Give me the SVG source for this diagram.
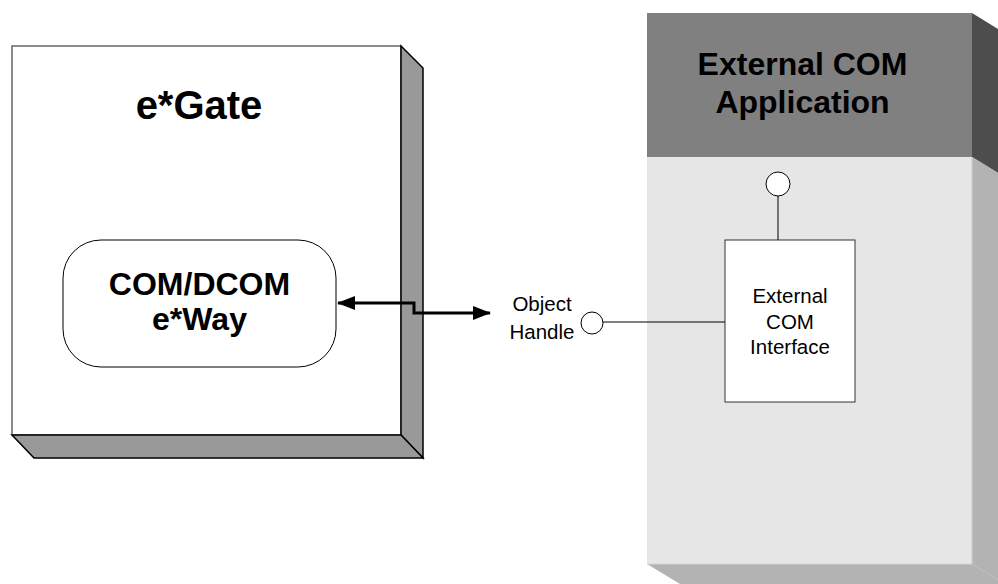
<svg xmlns="http://www.w3.org/2000/svg" width="998" height="584" viewBox="0 0 998 584">
<defs>
<style>
.title{font-family:"Liberation Sans",Arial,sans-serif;font-weight:bold;font-size:32px;fill:#000;text-anchor:middle}
.big{font-size:40px}
.small{font-family:"Liberation Sans",Arial,sans-serif;font-size:20.5px;fill:#000;text-anchor:middle}
.side{fill:#999999;stroke:#000;stroke-width:1.5;stroke-linejoin:miter}
.thin{stroke:#000;stroke-width:1;fill:none}
</style>
<marker id="ah" viewBox="0 0 18 14" refX="17" refY="7" markerWidth="18" markerHeight="14" markerUnits="userSpaceOnUse" orient="auto-start-reverse">
<path d="M0,0 L18,7 L0,14 Z" fill="#000"/>
</marker>
</defs>
<rect width="998" height="584" fill="#fff"/>

<g id="egate">
<rect x="12" y="46" width="389" height="389" fill="#fff" stroke="#666" stroke-width="1.5"/>
<polygon class="side" points="401,46 423,68 423,458 401,435"/>
<polygon class="side" points="12,435 401,435 423,458 34,458"/>
<text class="title big" x="199" y="119">e*Gate</text>
</g>

<g id="eway">
<rect x="63" y="240" width="273" height="127" rx="38" ry="38" fill="#fff" stroke="#000" stroke-width="1"/>
<text class="title" x="199.5" y="295">COM/DCOM</text>
<text class="title" x="199.5" y="330">e*Way</text>
</g>

<g id="extapp">
<rect x="647" y="13" width="325" height="144" fill="#808080"/>
<rect x="647" y="157" width="325" height="407" fill="#e6e6e6"/>
<polygon points="972,13 998,29 998,173 972,157" fill="#4d4d4d"/>
<polygon points="972,157 998,173 998,580 972,564" fill="#b3b3b3"/>
<polygon points="647,564 972,564 998,580 998,584 680,584" fill="#b3b3b3"/>
<line x1="972" y1="157" x2="972" y2="564" stroke="#cfcfcf" stroke-width="1"/>
<line x1="647" y1="564" x2="972" y2="564" stroke="#d6d6d6" stroke-width="1"/>
<text class="title" x="802.5" y="75">External COM</text>
<text class="title" x="802.5" y="113">Application</text>
</g>

<g id="interface">
<rect x="725" y="240" width="130" height="162" fill="#fff" stroke="#333" stroke-width="1"/>
<text class="small" x="790" y="303">External</text>
<text class="small" x="790" y="328.5">COM</text>
<text class="small" x="790" y="354">Interface</text>
</g>

<g id="topport">
<circle cx="778" cy="184" r="12" fill="#fff" stroke="#000" stroke-width="1"/>
</g>

<g id="objecthandle">
<circle cx="592" cy="323" r="11" fill="#fff" stroke="#000" stroke-width="1"/>
<text class="small" x="542" y="311">Object</text>
<text class="small" x="542" y="339">Handle</text>
</g>

<g id="connectors">
<line class="thin" x1="778" y1="196" x2="778" y2="240"/>
<line class="thin" x1="603" y1="322" x2="725" y2="322"/>
<path d="M338,303 H414 V313 H490" fill="none" stroke="#000" stroke-width="3" marker-start="url(#ah)" marker-end="url(#ah)"/>
</g>
</svg>
